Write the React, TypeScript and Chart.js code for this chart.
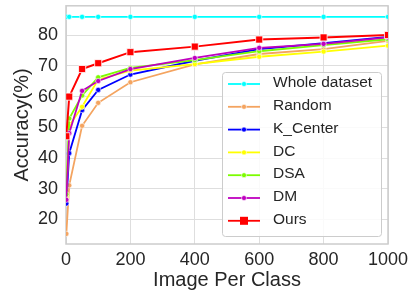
import React, { useEffect, useRef } from "react";
import { Chart, registerables } from "chart.js";

Chart.register(...registerables);

const xValues = [1, 10, 50, 100, 200, 400, 600, 800, 1000];
const wholeDataset = [86, 86, 86, 86, 86, 86, 86, 86, 86];
const randomSel = [15.3, 31.1, 50.5, 58.0, 64.7, 70.5, 73.9, 75.5, 78.2];
const kCenter = [25.2, 41.6, 55.6, 62.2, 67.2, 71.7, 75.5, 77.4, 79.5];
const dc = [27.3, 50.5, 56.7, 65.6, 68.5, 70.6, 73.0, 74.7, 76.6];
const dsa = [28.2, 52.9, 60.4, 66.3, 69.4, 71.9, 74.8, 76.8, 78.7];
const dm = [26.4, 48.1, 61.9, 65.1, 69.0, 72.6, 75.9, 77.2, 79.3];
const ours = [47.1, 60.0, 69.0, 70.9, 74.5, 76.3, 78.6, 79.3, 80.1];

const seriesLabels = ["Whole dataset", "Random", "K_Center", "DC", "DSA", "DM", "Ours"];
const seriesValues = [wholeDataset, randomSel, kCenter, dc, dsa, dm, ours];
const seriesColors = ["#00FFFF", "#F4A460", "#0000FF", "#FFFF00", "#7CFC00", "#BF00BF", "#FF0000"];

const xTicks = [0, 200, 400, 600, 800, 1000];
const yTicks = [20, 30, 40, 50, 60, 70, 80];

const FONT = "'Liberation Sans', Arial, sans-serif";
const TEXT = "#262626";

const framePlugin = {
  id: "frame",
  beforeDatasetsDraw(chart: any) {
    const { ctx, chartArea: a } = chart;
    ctx.save();
    ctx.strokeStyle = "#cccccc";
    ctx.lineWidth = 1.5;
    ctx.strokeRect(a.left, a.top, a.right - a.left, a.bottom - a.top);
    ctx.restore();
  },
};

const legendPlugin = {
  id: "boxLegend",
  afterDraw(chart: any) {
    const { ctx, chartArea: a } = chart;
    const w = 159;
    const h = 164;
    const right = a.right - 7;
    const bottom = a.bottom - 8;
    const left = right - w;
    const top = bottom - h;
    ctx.save();
    ctx.beginPath();
    (ctx as any).roundRect(left + 0.5, top + 0.5, w, h, 3);
    ctx.fillStyle = "rgba(255,255,255,0.85)";
    ctx.fill();
    ctx.strokeStyle = "#cccccc";
    ctx.lineWidth = 1;
    ctx.stroke();
    chart.data.datasets.forEach((ds: any, i: number) => {
      const y = top + 12 + i * 22.8;
      ctx.beginPath();
      ctx.strokeStyle = ds.borderColor;
      ctx.lineWidth = 1.8;
      ctx.moveTo(left + 6, y);
      ctx.lineTo(left + 38, y);
      ctx.stroke();
      ctx.fillStyle = ds.borderColor;
      ctx.strokeStyle = "#ffffff";
      ctx.lineWidth = 0.6;
      if (ds.pointStyle === "rect") {
        ctx.fillRect(left + 22 - 4, y - 4, 8, 8);
      } else {
        ctx.beginPath();
        ctx.arc(left + 22, y, 2.5, 0, Math.PI * 2);
        ctx.fill();
        ctx.stroke();
      }
      ctx.fillStyle = TEXT;
      ctx.font = `15.5px ${FONT}`;
      ctx.textBaseline = "middle";
      ctx.textAlign = "left";
      ctx.fillText(ds.label, left + 51, y - 1);
    });
    ctx.restore();
  },
};

export default function App() {
  const canvasRef = useRef<HTMLCanvasElement | null>(null);

  useEffect(() => {
    document.body.style.margin = "0";
    const canvas = canvasRef.current;
    if (!canvas) return;
    const datasets = seriesLabels.map((label, i) => {
      const isOurs = label === "Ours";
      return {
        label,
        data: xValues.map((x, j) => ({ x, y: seriesValues[i][j] })),
        borderColor: seriesColors[i],
        backgroundColor: seriesColors[i],
        pointBackgroundColor: seriesColors[i],
        pointBorderColor: "#ffffff",
        pointBorderWidth: isOurs ? 0.8 : 0.6,
        pointRadius: isOurs ? 5 : 2.6,
        pointStyle: isOurs ? "rect" : "circle",
        borderWidth: isOurs ? 2 : 1.8,
        tension: 0,
        order: seriesLabels.length - 1 - i,
      };
    });

    const chart = new Chart(canvas, {
      type: "line",
      data: { datasets } as any,
      options: {
        responsive: false,
        animation: false,
        devicePixelRatio: 1,
        layout: { padding: { top: 3, right: 24, left: 0, bottom: 0 } },
        plugins: {
          legend: { display: false },
          tooltip: { enabled: false },
        },
        scales: {
          x: {
            type: "linear",
            min: 0,
            max: 1000,
            afterBuildTicks: (scale: any) => {
              scale.ticks = xTicks.map((v) => ({ value: v }));
            },
            afterFit: (scale: any) => {
              scale.height = 48;
              scale.paddingLeft = 0;
              scale.paddingRight = 0;
            },
            grid: { color: "#dedede", lineWidth: 1, drawTicks: false },
            border: { display: false },
            ticks: {
              padding: 5,
              color: TEXT,
              font: { size: 18, family: FONT },
              maxRotation: 0,
              callback: (v: any) => String(v),
            },
            title: {
              display: true,
              text: "Image Per Class",
              color: TEXT,
              font: { size: 20, family: FONT },
              padding: { top: 0, bottom: 0 },
            },
          },
          y: {
            type: "linear",
            min: 12,
            max: 89.6,
            afterBuildTicks: (scale: any) => {
              scale.ticks = yTicks.map((v) => ({ value: v }));
            },
            afterFit: (scale: any) => {
              scale.width = 66;
              scale.paddingTop = 0;
              scale.paddingBottom = 0;
            },
            grid: { color: "#dedede", lineWidth: 1, drawTicks: false },
            border: { display: false },
            ticks: {
              padding: 8,
              color: TEXT,
              font: { size: 18, family: FONT },
              callback: (v: any) => String(v),
            },
            title: {
              display: true,
              text: "Accuracy(%)",
              color: TEXT,
              font: { size: 20, family: FONT },
              padding: { top: 10, bottom: 0 },
            },
          },
        },
      } as any,
      plugins: [framePlugin, legendPlugin],
    });
    return () => chart.destroy();
  }, []);

  return (
    <div style={{ width: 412, height: 292, position: "relative" }}>
      <canvas ref={canvasRef} width={412} height={292} style={{ display: "block" }} />
    </div>
  );
}
